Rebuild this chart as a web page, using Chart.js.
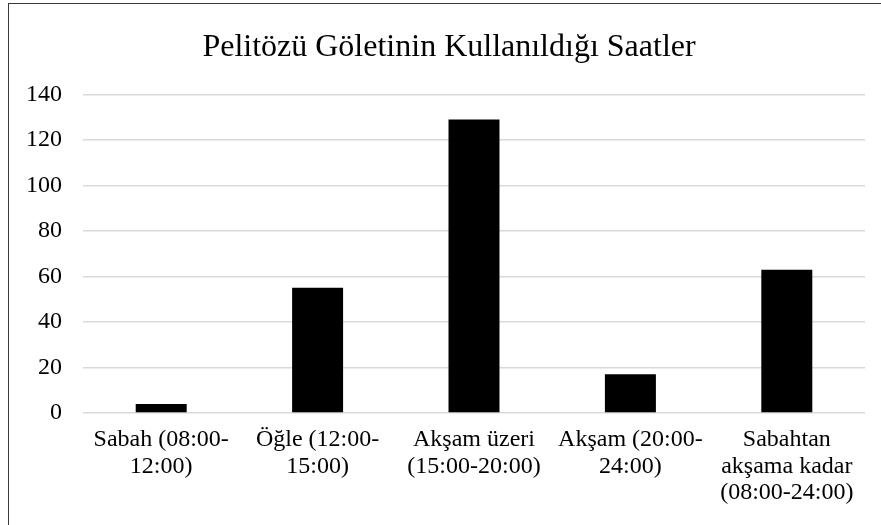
<!DOCTYPE html>
<html>
<head>
<meta charset="utf-8">
<script src="https://cdn.jsdelivr.net/npm/chart.js@4"></script>
<style>
  html, body { margin: 0; padding: 0; background: #fff; overflow: hidden; }
  #wrap { position: relative; width: 881px; height: 525px; }
  #frame {
    position: absolute; left: 8px; top: 3px; width: 900px; height: 600px;
    border-left: 1.5px solid #3a3a3a; border-top: 1.5px solid #3a3a3a;
    pointer-events: none;
  }
</style>
</head>
<body>
<div id="wrap">
  <canvas id="chart" width="881" height="525"></canvas>
  <div id="frame"></div>
</div>
<script>
const titleText = "Pelitözü Göletinin Kullanıldığı Saatler";
const categories = [
    ["Sabah (08:00-", "12:00)"],
    ["Öğle (12:00-", "15:00)"],
    ["Akşam üzeri", "(15:00-20:00)"],
    ["Akşam (20:00-", "24:00)"],
    ["Sabahtan", "akşama kadar", "(08:00-24:00)"]
];
const usageCounts = [4, 55, 129, 17, 63];
const yMin = 0, yMax = 140, yStep = 20;

const serif = "'Liberation Serif', 'Times New Roman', serif";

/* title in the original sits a bit right of the canvas centre */
const shiftTitle = {
    id: "shiftTitle",
    afterLayout(chart) {
        if (chart.titleBlock) chart.titleBlock.left = 33;
    }
};

new Chart(document.getElementById("chart"), {
    type: "bar",
    data: {
        labels: categories,
        datasets: [{
            data: usageCounts,
            backgroundColor: "#000000",
            borderWidth: 0,
            barPercentage: 1,
            categoryPercentage: 0.326
        }]
    },
    options: {
        responsive: false,
        animation: false,
        layout: { padding: { left: 0, right: 16, top: 0, bottom: 0 } },
        plugins: {
            legend: { display: false },
            tooltip: { enabled: false },
            title: {
                display: true,
                text: titleText,
                color: "#000",
                font: { family: serif, size: 32, weight: "normal", lineHeight: 1.2 },
                padding: { top: 28, bottom: 28 }
            }
        },
        scales: {
            x: {
                grid: { display: false, drawTicks: false },
                border: { display: false },
                ticks: {
                    color: "#000",
                    padding: 13,
                    maxRotation: 0,
                    autoSkip: false,
                    font: { family: serif, size: 24, lineHeight: 1.12 }
                },
                afterFit: s => { s.height = 112; }
            },
            y: {
                min: yMin,
                max: yMax,
                grid: { color: "#d9d9d9", lineWidth: 1.5, drawTicks: false },
                border: { display: false },
                ticks: {
                    stepSize: yStep,
                    color: "#000",
                    padding: 21,
                    font: { family: serif, size: 24 }
                },
                afterFit: s => { s.width = 83; }
            }
        }
    },
    plugins: [shiftTitle]
});
</script>
</body>
</html>
